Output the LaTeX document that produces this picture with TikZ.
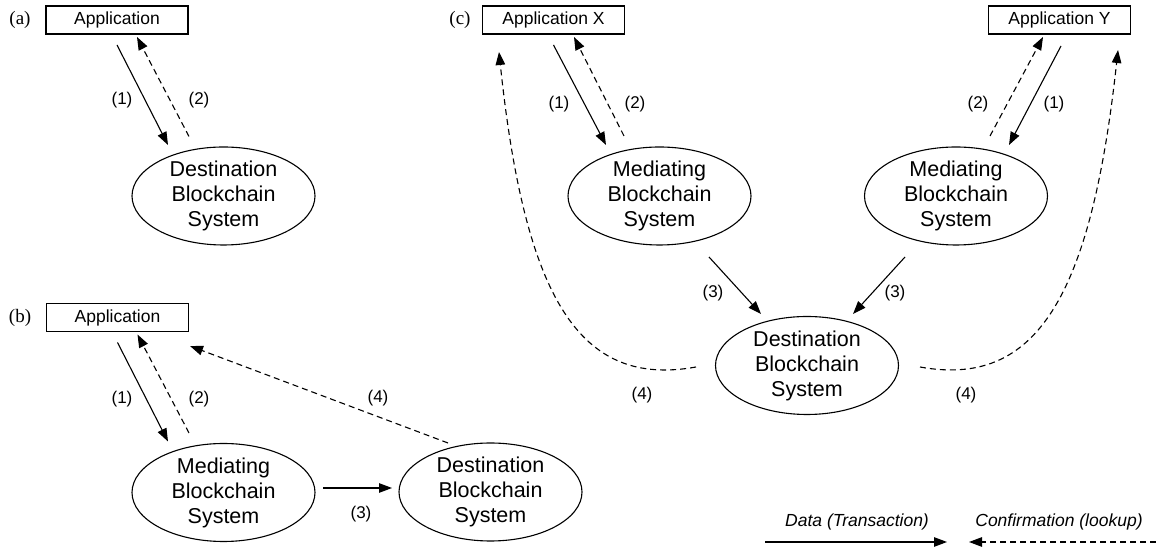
\documentclass[tikz,border=0pt]{standalone}
\usepackage{fontspec}
\setmainfont{Liberation Sans}
\newfontfamily\tagfont{Liberation Serif}
\usetikzlibrary{arrows.meta,shapes.geometric}
\tikzset{
  appbox/.style={draw, line width=1.1pt, rectangle, minimum width=142pt, minimum height=28pt, inner sep=0pt, font=\fontsize{17.5}{21}\selectfont},
  chain/.style={draw, line width=1.1pt, ellipse, minimum width=183pt, minimum height=98pt, inner xsep=0pt, inner ysep=-4pt, align=center, font=\fontsize{21.5}{25}\selectfont},
  lbl/.style={inner sep=0pt, font=\fontsize{17}{20}\selectfont},
  tag/.style={inner sep=0pt, font=\tagfont\fontsize{19}{22}\selectfont},
  legtext/.style={inner sep=0pt, font=\itshape\fontsize{17.5}{21}\selectfont},
  data/.style={line width=1.1pt, -{Triangle[length=13pt,width=9.5pt]}},
  conf/.style={line width=1.1pt, dash pattern=on 6pt off 4pt, -{Triangle[length=13pt,width=9.5pt]}}
}
\begin{document}
\begin{tikzpicture}[x=1pt,y=1pt]
\useasboundingbox (0,0) rectangle (1156,548);
% ---------- (a)
\node[tag] (taga) at (20,528) {(a)};
\node[appbox] (appA) at (117,528) {Application};
\node[chain] (dstA) at (223.5,352) {Destination\\Blockchain\\System};
\draw[data] ([yshift=-25pt]appA.center) -- ([xshift=-55.5pt,yshift=51pt]dstA.center);
\draw[conf] ([xshift=-34.5pt,yshift=59.5pt]dstA.center) -- ([xshift=20pt,yshift=-17pt]appA.center);
\node[lbl] (a1) at (122,448) {(1)};
\node[lbl] (a2) at (199,448) {(2)};
% ---------- (b)
\node[tag] (tagb) at (20,230.5) {(b)};
\node[appbox] (appB) at (117.5,230.5) {Application};
\node[chain] (medB) at (223.5,55.5) {Mediating\\Blockchain\\System};
\node[chain] (dstB) at (490.5,56) {Destination\\Blockchain\\System};
\draw[data] ([yshift=-25pt]appB.center) -- ([xshift=-55.5pt,yshift=51pt]medB.center);
\draw[conf] ([xshift=-34.5pt,yshift=59.5pt]medB.center) -- ([xshift=20pt,yshift=-17pt]appB.center);
\draw[data] ([xshift=99.5pt,yshift=4.5pt]medB.center) -- ([xshift=-98.5pt,yshift=4pt]dstB.center);
\draw[conf] ([xshift=-42.5pt,yshift=49pt]dstB.center) -- ([xshift=72.5pt,yshift=-28.5pt]appB.center);
\node[lbl] (b1) at (122,149) {(1)};
\node[lbl] (b2) at (199,149) {(2)};
\node[lbl] (b3) at (361,34) {(3)};
\node[lbl] (b4) at (378,150) {(4)};
% ---------- (c)
\node[tag] (tagc) at (460,528) {(c)};
\node[appbox] (appX) at (553.5,528) {Application X};
\node[appbox] (appY) at (1059.5,528) {Application Y};
\node[chain] (medX) at (659.5,352) {Mediating\\Blockchain\\System};
\node[chain] (medY) at (956,352) {Mediating\\Blockchain\\System};
\node[chain] (dstC) at (807,182.5) {Destination\\Blockchain\\System};
\draw[data] ([yshift=-25pt]appX.center) -- ([xshift=-53.5pt,yshift=51pt]medX.center);
\draw[conf] ([xshift=-35.5pt,yshift=60pt]medX.center) -- ([xshift=20.5pt,yshift=-17pt]appX.center);
\draw[data] ([xshift=1.5pt,yshift=-26pt]appY.center) -- ([xshift=53pt,yshift=51pt]medY.center);
\draw[conf] ([xshift=34pt,yshift=60pt]medY.center) -- ([xshift=-16.5pt,yshift=-17pt]appY.center);
\draw[data] ([xshift=49.5pt,yshift=-61pt]medX.center) -- ([xshift=-46pt,yshift=51.5pt]dstC.center);
\draw[data] ([xshift=-51pt,yshift=-61pt]medY.center) -- ([xshift=46pt,yshift=51.5pt]dstC.center);
\draw[conf] ([xshift=-111pt,yshift=-1.5pt]dstC.center) .. controls +(-116,-21) and +(26,-248) .. ([xshift=-54.5pt,yshift=-32pt]appX.center);
\draw[conf] ([xshift=113pt,yshift=-1.5pt]dstC.center) .. controls +(116,-21) and +(-27,-248) .. ([xshift=58.5pt,yshift=-30pt]appY.center);
\node[lbl] (x1) at (559,444) {(1)};
\node[lbl] (x2) at (635,444) {(2)};
\node[lbl] (y2) at (978,444) {(2)};
\node[lbl] (y1) at (1054,444) {(1)};
\node[lbl] (c3l) at (713,255) {(3)};
\node[lbl] (c3r) at (895,255) {(3)};
\node[lbl] (c4l) at (642,153) {(4)};
\node[lbl] (c4r) at (966,153) {(4)};
% ---------- legend
\node[legtext] (legD) at (857,26) {Data (Transaction)};
\node[legtext] (legC) at (1059,26) {Confirmation (lookup)};
\coordinate (dA) at (765,6);
\coordinate (dB) at (947,6);
\coordinate (cA) at (1156,6);
\coordinate (cB) at (969,6);
\draw[data] (dA) -- (dB);
\draw[conf] (cA) -- (cB);
\end{tikzpicture}
\end{document}
